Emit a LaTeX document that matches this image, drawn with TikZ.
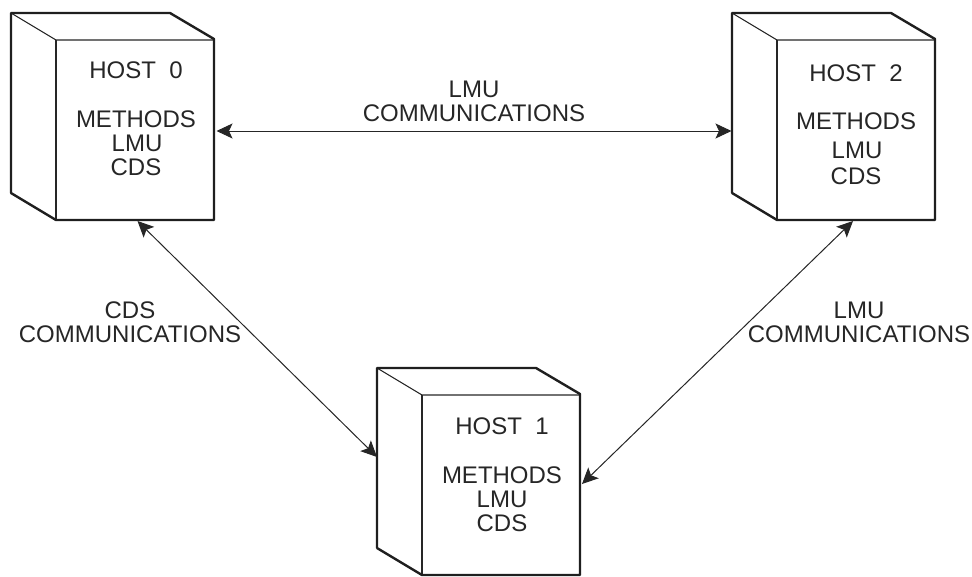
\documentclass[tikz,border=0pt]{standalone}
\usepackage{fontspec}
\setmainfont{Liberation Sans}
\usetikzlibrary{arrows.meta}
\tikzset{
  x=1pt,y=-1pt,
  thickedge/.style={line width=2.4pt,line join=round,line cap=round,draw=black!88},
  thinedge/.style={line width=1.1pt,line join=round,draw=black!85},
  conn/.style={line width=1pt,draw=black!85,{Stealth[length=16pt,width=15pt,inset=3.5pt]}-{Stealth[length=16pt,width=15pt,inset=3.5pt]}},
  lbl/.style={font=\fontsize{24}{24}\selectfont,text=black!85,inner sep=0pt,align=center,anchor=base}
}
\newcommand{\hostcube}[3]{%
  \begin{scope}[shift={(#2,#3)}]
    \node[rectangle,inner sep=0pt,outer sep=0pt,minimum width=204pt,minimum height=207pt,anchor=north west] (#1) at (0,0) {};
    \draw[thinedge] (0,0) -- (45,27) -- (203,27);
    \draw[thinedge] (45,27) -- (45,207);
    \draw[thickedge] (0,180) -- (0,0) -- (159,0) -- (203,26) -- (203,207) -- (45,207) -- (0,180);
  \end{scope}}
\begin{document}
\begin{tikzpicture}
\useasboundingbox (0,0) rectangle (972,576);
\hostcube{h0}{11}{13}
\hostcube{h2}{732}{13}
\hostcube{h1}{377}{368}
% host 0
\node[lbl] (h0a) at (136,78) {HOST\ \ 0};
\node[lbl] (h0b) at (136,127) {METHODS};
\node[lbl] (h0c) at (137,151) {LMU};
\node[lbl] (h0d) at (136,175) {CDS};
% host 2
\node[lbl] (h2a) at (856,81) {HOST\ \ 2};
\node[lbl] (h2b) at (856,129) {METHODS};
\node[lbl] (h2c) at (857,158) {LMU};
\node[lbl] (h2d) at (856,184) {CDS};
% host 1
\node[lbl] (h1a) at (502,434) {HOST\ \ 1};
\node[lbl] (h1b) at (502,483) {METHODS};
\node[lbl] (h1c) at (502,507) {LMU};
\node[lbl] (h1d) at (502,531) {CDS};
% connectors
\draw[conn] ([xshift=1.5pt,yshift=-14.5pt]h0.east) -- ([xshift=-0.5pt,yshift=-14.5pt]h2.west);
\draw[conn] ([xshift=24.5pt,yshift=-1pt]h0.south) -- ([yshift=14.5pt]h1.west);
\draw[conn] ([xshift=1pt,yshift=-12.5pt]h1.east) -- ([xshift=19pt,yshift=-1pt]h2.south);
% labels
\node[lbl] (t1a) at (474,97) {LMU};
\node[lbl] (t1b) at (474,121) {COMMUNICATIONS};
\node[lbl] (t2a) at (130,318) {CDS};
\node[lbl] (t2b) at (130,342) {COMMUNICATIONS};
\node[lbl] (t3a) at (859,318) {LMU};
\node[lbl] (t3b) at (859,342) {COMMUNICATIONS};
\end{tikzpicture}
\end{document}
